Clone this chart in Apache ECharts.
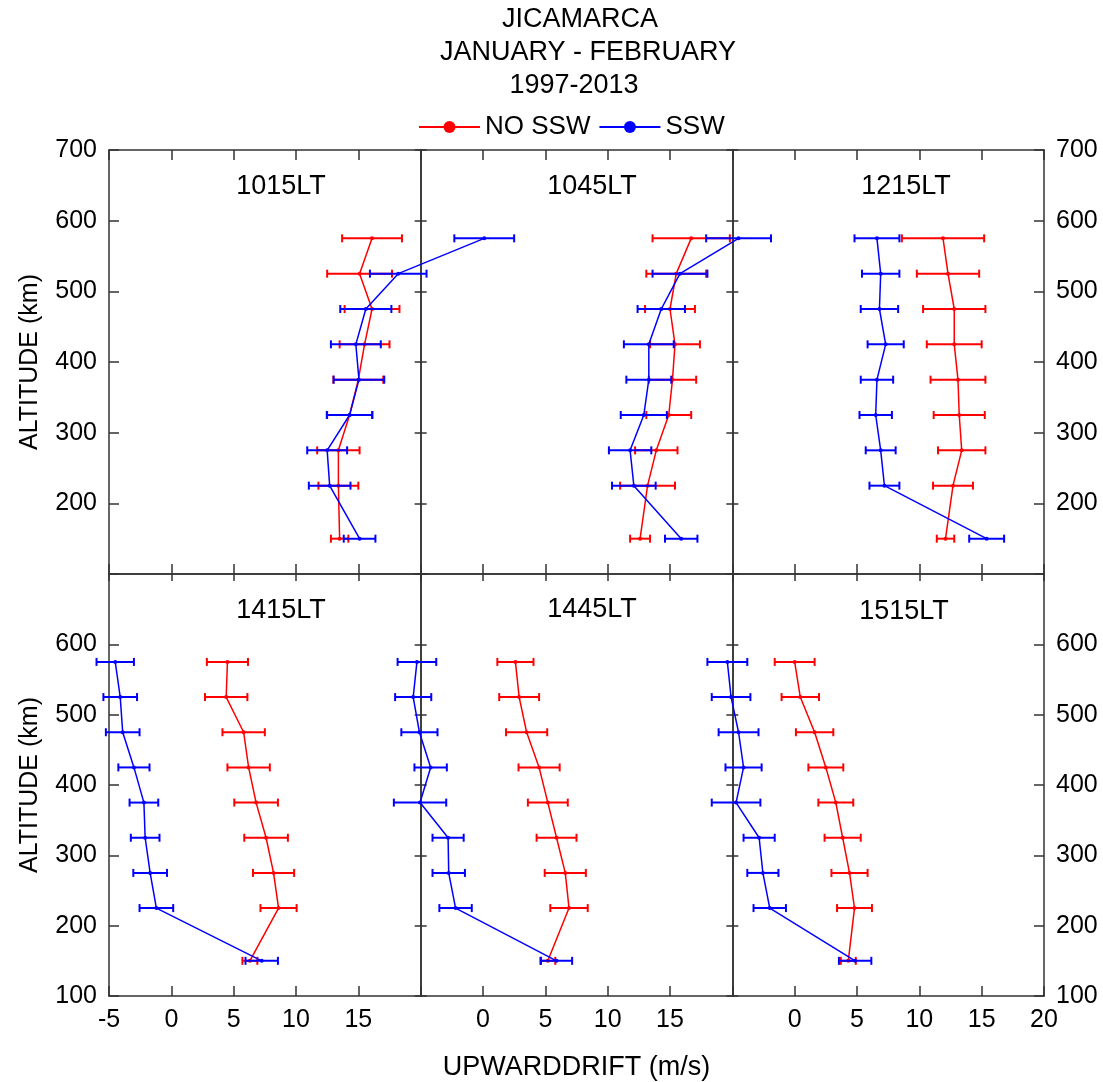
<!DOCTYPE html>
<html><head><meta charset="utf-8">
<script src="https://cdn.jsdelivr.net/npm/echarts@6/dist/echarts.min.js"></script>
<style>html,body{margin:0;padding:0;background:#fff}#c{width:1103px;height:1082px}</style>
</head><body><div id="c"></div>
<script>
// Altitude levels (km)
const altitudes = [575, 525, 475, 425, 375, 325, 275, 225, 150];
const yTicks = [100, 200, 300, 400, 500, 600, 700];
const panelLabels = ['1015LT', '1045LT', '1215LT', '1415LT', '1445LT', '1515LT'];
const xTickLabelsPanel = ['-5', '0', '5', '10', '15'];

// Upward drift (m/s), NO SSW (red) and SSW (blue), with error half-widths
const ns1015 = [16.1, 15.1, 16.1, 15.5, 15.0, 14.3, 13.4, 13.4, 13.5];
const ns1015Err = [2.4, 2.6, 2.2, 2.0, 2.0, 1.8, 1.7, 1.6, 0.7];
const ssw1015 = [25.1, 18.2, 15.6, 14.8, 15.05, 14.3, 12.5, 12.7, 15.1];
const ssw1015Err = [2.4, 2.27, 2.05, 2.0, 2.03, 1.83, 1.6, 1.67, 1.27];

const ns1045 = [16.7, 15.5, 15.0, 15.4, 15.2, 14.9, 13.9, 13.2, 12.6];
const ns1045Err = [3.1, 2.4, 2.0, 2.0, 1.9, 1.8, 1.7, 2.2, 0.8];
const ssw1045 = [20.5, 15.8, 14.3, 13.3, 13.3, 12.9, 11.8, 12.1, 15.9];
const ssw1045Err = [2.6, 2.2, 1.9, 2.0, 1.8, 1.85, 1.7, 1.75, 1.3];

const ns1215 = [11.9, 12.3, 12.8, 12.8, 13.1, 13.2, 13.4, 12.7, 12.1];
const ns1215Err = [3.3, 2.5, 2.5, 2.2, 2.2, 2.05, 1.9, 1.6, 0.7];
const ssw1215 = [6.6, 6.9, 6.8, 7.3, 6.6, 6.5, 6.9, 7.2, 15.4];
const ssw1215Err = [1.8, 1.5, 1.5, 1.45, 1.3, 1.3, 1.2, 1.2, 1.4];

const ns1415 = [4.5, 4.4, 5.8, 6.2, 6.8, 7.6, 8.2, 8.6, 6.3];
const ns1415Err = [1.65, 1.7, 1.7, 1.7, 1.75, 1.75, 1.65, 1.45, 0.6];
const ssw1415 = [-4.5, -4.1, -3.9, -3.0, -2.2, -2.1, -1.7, -1.2, 7.25];
const ssw1415Err = [1.5, 1.35, 1.35, 1.25, 1.15, 1.15, 1.35, 1.35, 1.3];

const ns1445 = [2.6, 2.9, 3.5, 4.5, 5.2, 5.9, 6.6, 6.9, 5.2];
const ns1445Err = [1.45, 1.6, 1.65, 1.65, 1.6, 1.6, 1.65, 1.5, 0.6];
const ssw1445 = [-5.3, -5.6, -5.1, -4.2, -5.05, -2.8, -2.75, -2.2, 5.9];
const ssw1445Err = [1.55, 1.45, 1.45, 1.3, 2.1, 1.25, 1.3, 1.3, 1.25];

const ns1515 = [0.0, 0.45, 1.6, 2.5, 3.3, 3.85, 4.4, 4.8, 4.3];
const ns1515Err = [1.6, 1.5, 1.5, 1.4, 1.4, 1.45, 1.45, 1.4, 0.6];
const ssw1515 = [-5.4, -5.1, -4.5, -4.1, -4.7, -2.85, -2.55, -2.0, 4.85];
const ssw1515Err = [1.6, 1.55, 1.6, 1.45, 1.95, 1.25, 1.25, 1.3, 1.3];

const panels = [
  { ns: ns1015, nsErr: ns1015Err, ssw: ssw1015, sswErr: ssw1015Err },
  { ns: ns1045, nsErr: ns1045Err, ssw: ssw1045, sswErr: ssw1045Err },
  { ns: ns1215, nsErr: ns1215Err, ssw: ssw1215, sswErr: ssw1215Err },
  { ns: ns1415, nsErr: ns1415Err, ssw: ssw1415, sswErr: ssw1415Err },
  { ns: ns1445, nsErr: ns1445Err, ssw: ssw1445, sswErr: ssw1445Err },
  { ns: ns1515, nsErr: ns1515Err, ssw: ssw1515, sswErr: ssw1515Err }
];

const PANEL_SPAN = 25;        // each panel spans -5..20 m/s
const X_MIN = -5, X_MAX = 70;
const FONT = 'Liberation Sans, Arial, sans-serif';
const RED = '#ff0000', BLUE = '#0000ff';
const FRAME = '#333333';

const GRID_LEFT = 109, GRID_W = 935, ROW_H = 424, TOP0 = 150;
const PW = GRID_W / 3;

const chart = echarts.init(document.getElementById('c'), null, { renderer: 'canvas' });

function xLabel(v) {
  if (v === 20 || v === 45) return '';
  if (v === 70) return '20';
  return String(((v + 5) % PANEL_SPAN) - 5);
}

const lineStyleFrame = { color: FRAME, width: 1.5 };

const xAxes = [];
const yAxes = [];
for (let r = 0; r < 2; r++) {
  xAxes.push({
    type: 'value', gridIndex: r, position: 'bottom', min: X_MIN, max: X_MAX, interval: 5,
    axisLine: { show: true, onZero: false, lineStyle: lineStyleFrame },
    axisTick: { show: true, inside: true, length: 10, lineStyle: { color: FRAME, width: 1.5 } },
    axisLabel: r === 1 ? { show: true, formatter: xLabel, fontSize: 25, fontFamily: FONT, color: '#000', margin: 12 } : { show: false },
    splitLine: { show: false },
    name: r === 1 ? 'UPWARDDRIFT (m/s)' : '',
    nameLocation: 'middle', nameGap: 58,
    nameTextStyle: { fontSize: 27, fontFamily: FONT, color: '#000' }
  });
  xAxes.push({
    type: 'value', gridIndex: r, position: 'top', min: X_MIN, max: X_MAX, interval: 5,
    axisLine: { show: true, onZero: false, lineStyle: lineStyleFrame },
    axisTick: { show: true, inside: true, length: r === 0 ? 10 : 7, lineStyle: { color: FRAME, width: 1.5 } },
    axisLabel: { show: false }, splitLine: { show: false }
  });
  const hideVal = r === 0 ? 100 : 700;
  const yLab = {
    show: true, fontSize: 25, fontFamily: FONT, color: '#000', margin: 12,
    formatter: v => (v === hideVal ? '' : String(v))
  };
  const baseY = {
    type: 'value', gridIndex: r, min: yTicks[0], max: yTicks[yTicks.length - 1], interval: 100,
    splitLine: { show: false },
    axisLine: { show: true, onZero: false, lineStyle: lineStyleFrame }
  };
  yAxes.push(Object.assign({}, baseY, {
    position: 'left',
    axisTick: { show: true, inside: true, length: 10, lineStyle: { color: FRAME, width: 1.5 } },
    axisLabel: yLab,
    name: 'ALTITUDE (km)', nameLocation: 'middle', nameGap: 66,
    nameTextStyle: { fontSize: 25, fontFamily: FONT, color: '#000' }
  }));
  yAxes.push(Object.assign({}, baseY, {
    position: 'right',
    axisTick: { show: true, inside: true, length: 10, lineStyle: { color: FRAME, width: 1.5 } },
    axisLabel: yLab
  }));
  // panel divider lines with crossing ticks
  [1, 2].forEach(k => {
    [true, false].forEach(ins => {
      yAxes.push(Object.assign({}, baseY, {
        position: 'left', offset: -PW * k,
        axisTick: { show: true, inside: ins, length: 6, lineStyle: { color: FRAME, width: 1.5 } },
        axisLabel: { show: false }
      }));
    });
  });
}

function errRender(color) {
  return function (params, api) {
    const y = api.value(1), lo = api.value(2), hi = api.value(3);
    const p1 = api.coord([lo, y]), p2 = api.coord([hi, y]);
    const h = 4;
    const st = { stroke: color, lineWidth: 2 };
    return {
      type: 'group',
      children: [
        { type: 'line', shape: { x1: p1[0], y1: p1[1], x2: p2[0], y2: p2[1] }, style: st },
        { type: 'line', shape: { x1: p1[0], y1: p1[1] - h, x2: p1[0], y2: p1[1] + h }, style: st },
        { type: 'line', shape: { x1: p2[0], y1: p2[1] - h, x2: p2[0], y2: p2[1] + h }, style: st }
      ]
    };
  };
}

const series = [];
['ns', 'ssw'].forEach(kind => {
  const color = kind === 'ns' ? RED : BLUE;
  const name = kind === 'ns' ? 'NO SSW' : 'SSW';
  panels.forEach((p, i) => {
    const row = i < 3 ? 0 : 1;
    const off = (i % 3) * PANEL_SPAN;
    const vals = p[kind], errs = p[kind + 'Err'];
    series.push({
      type: 'custom', name: name + ' err', xAxisIndex: row * 2, yAxisIndex: row * 6,
      clip: false, silent: true,
      renderItem: errRender(color),
      encode: { x: [0, 2, 3], y: 1 },
      data: vals.map((v, j) => [v + off, altitudes[j], v - errs[j] + off, v + errs[j] + off]),
      z: kind === 'ns' ? 2 : 4
    });
    series.push({
      type: 'line', name: name, xAxisIndex: row * 2, yAxisIndex: row * 6,
      clip: false, silent: true, animation: false,
      symbol: 'circle', symbolSize: 4, showSymbol: true,
      lineStyle: { color: color, width: 1.5 }, itemStyle: { color: color },
      data: vals.map((v, j) => [v + off, altitudes[j]]),
      z: kind === 'ns' ? 3 : 5
    });
  });
});

const panelLabelPos = [[281, 187], [592, 187], [906, 187], [281, 611], [592, 610], [904, 612]];
const graphics = panelLabels.map((t, i) => ({
  type: 'text', x: panelLabelPos[i][0], y: panelLabelPos[i][1],
  style: { text: t, fontSize: 27, fontFamily: FONT, fill: '#000', align: 'center', verticalAlign: 'middle' }
}));
const titleLines = [['JICAMARCA', 580, 20], ['JANUARY - FEBRUARY', 588, 53], ['1997-2013', 574, 86]];
titleLines.forEach(t => graphics.push({
  type: 'text', x: t[1], y: t[2],
  style: { text: t[0], fontSize: 27, fontFamily: FONT, fill: '#000', align: 'center', verticalAlign: 'middle' }
}));

chart.setOption({
  animation: false,
  backgroundColor: '#ffffff',
  grid: [
    { left: GRID_LEFT, width: GRID_W, top: TOP0, height: ROW_H },
    { left: GRID_LEFT, width: GRID_W, top: TOP0 + ROW_H, height: ROW_H }
  ],
  legend: {
    data: ['NO SSW', 'SSW'], left: 418, top: 114, padding: 0,
    itemWidth: 61, itemHeight: 15, itemGap: 8,
    textStyle: { fontSize: 26, fontFamily: FONT, color: '#000' },
    selectedMode: false
  },
  xAxis: xAxes,
  yAxis: yAxes,
  series: series,
  graphic: graphics
});
</script></body></html>
